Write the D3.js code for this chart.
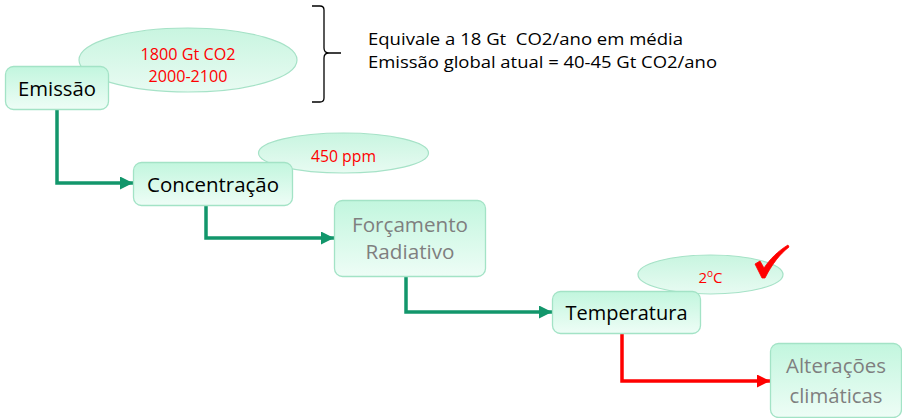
<!DOCTYPE html>
<html>
<head>
<meta charset="utf-8">
<script src="https://cdn.jsdelivr.net/npm/d3@7"></script>
<style>
html,body{margin:0;padding:0;background:#fff;}
svg{display:block;}
text{font-family:"Open Sans","Noto Sans",sans-serif;font-weight:400;}
</style>
</head>
<body>
<svg id="chart" width="902" height="418"></svg>
<script>
// ---- data ----
const stages = ["Emissão", "Concentração", "Forçamento Radiativo", "Temperatura", "Alterações climáticas"];
const stageLines = [["Emissão"], ["Concentração"], ["Forçamento", "Radiativo"], ["Temperatura"], ["Alterações", "climáticas"]];
const stageMuted = [false, false, true, false, true];
const notes = [["1800 Gt CO2", "2000-2100"], ["450 ppm"], [], ["2", "o", "C"], []];
const braceLines = ["Equivale a 18 Gt  CO2/ano em média", "Emissão global atual = 40-45 Gt CO2/ano"];

// ---- layout (positions / styles, separate from data) ----
const boxes = [
  {x:5,   y:66,  w:103, h:43},
  {x:133, y:162, w:159, h:43},
  {x:334, y:200, w:151, h:76},
  {x:552, y:291, w:148, h:42},
  {x:770, y:343, w:131, h:74}
];
const lineLayout = [
  [{b:96, w:78}],
  [{b:192, w:132}],
  [{b:232, w:116}, {b:259, w:89}],
  [{b:320, w:122}],
  [{b:373, w:100}, {b:403, w:93}]
];
const ellipses = [
  {cx:188, cy:60, rx:109, ry:32, lines:[{b:60, w:95}, {b:82, w:79}]},
  {cx:343.5, cy:153, rx:85, ry:20, lines:[{b:162, w:65}]},
  null,
  {cx:710.5, cy:274.5, rx:72.5, ry:19.5, lines:[{b:283}]},
  null
];
const connectors = [
  {sx:57,  ty:183, color:"#12966b"},
  {sx:206, ty:238, color:"#12966b"},
  {sx:406, ty:312, color:"#12966b"},
  {sx:622, ty:381, color:"#ff0000"}
];

const svg = d3.select("#chart");
const defs = svg.append("defs");

const gBox = defs.append("linearGradient").attr("id","gBox").attr("x1",0).attr("y1",0).attr("x2",0).attr("y2",1);
gBox.append("stop").attr("offset","0%").attr("stop-color","#c2f6de");
gBox.append("stop").attr("offset","100%").attr("stop-color","#eefdf6");
const gEl = defs.append("linearGradient").attr("id","gEl").attr("x1",0).attr("y1",0).attr("x2",0).attr("y2",1);
gEl.append("stop").attr("offset","0%").attr("stop-color","#c8f5e0");
gEl.append("stop").attr("offset","100%").attr("stop-color","#e8fbf2");

connectors.forEach((c,i)=>{
  defs.append("marker").attr("id","arr"+i)
    .attr("viewBox","0 0 10 10").attr("refX",10).attr("refY",5)
    .attr("markerUnits","userSpaceOnUse").attr("markerWidth",13).attr("markerHeight",13)
    .attr("orient","auto")
    .append("path").attr("d","M0,0 L10,5 L0,10 Z").attr("fill",c.color);
});

const lineGen = d3.line();
connectors.forEach((c,i)=>{
  const from = boxes[i], to = boxes[i+1];
  const pts = [[c.sx, from.y+from.h], [c.sx, c.ty], [to.x, c.ty]];
  svg.append("path").attr("d", lineGen(pts))
    .attr("fill","none").attr("stroke",c.color).attr("stroke-width",3.5)
    .attr("stroke-linejoin","miter")
    .attr("marker-end","url(#arr"+i+")");
});

ellipses.forEach((e,i)=>{
  if(!e) return;
  svg.append("ellipse").attr("cx",e.cx).attr("cy",e.cy).attr("rx",e.rx).attr("ry",e.ry)
    .attr("fill","url(#gEl)").attr("stroke","#a6e2c7").attr("stroke-width",1.2);
});

const boxSel = svg.selectAll("g.stage").data(stages).enter().append("g").attr("class","stage");
boxSel.append("rect")
  .attr("x",(d,i)=>boxes[i].x+0.5).attr("y",(d,i)=>boxes[i].y+0.5)
  .attr("width",(d,i)=>boxes[i].w).attr("height",(d,i)=>boxes[i].h)
  .attr("rx",8).attr("ry",8)
  .attr("fill","url(#gBox)").attr("stroke","#a3e3c6").attr("stroke-width",1.3);
boxSel.each(function(d,i){
  const b = boxes[i];
  stageLines[i].forEach((t,j)=>{
    const L = lineLayout[i][j];
    d3.select(this).append("text")
      .attr("x", b.x + b.w/2 + 0.5).attr("y", L.b)
      .attr("text-anchor","middle")
      .attr("font-size",19.5)
      .attr("fill", stageMuted[i] ? "#7f7f7f" : "#000")
      .attr("textLength", L.w).attr("lengthAdjust","spacingAndGlyphs")
      .text(t);
  });
});

ellipses.forEach((e,i)=>{
  if(!e) return;
  if(i===3){
    const t = svg.append("text").attr("x",e.cx).attr("y",e.lines[0].b)
      .attr("text-anchor","middle").attr("font-size",15).attr("fill","#ff0000");
    t.append("tspan").text(notes[i][0]);
    t.append("tspan").attr("font-size",10).attr("dy",-6).text(notes[i][1]);
    t.append("tspan").attr("dy",6).text(notes[i][2]);
    return;
  }
  notes[i].forEach((txt,j)=>{
    const L = e.lines[j];
    svg.append("text").attr("x",e.cx).attr("y",L.b)
      .attr("text-anchor","middle").attr("font-size",15.5).attr("fill","#ff0000")
      .attr("textLength",L.w).attr("lengthAdjust","spacingAndGlyphs")
      .text(txt);
  });
});

svg.append("path")
  .attr("d","M755,264 L760,261 L764,268 C770,259 778,251 788,245 L789,247 C780,254 772,264 765,278 L762,278 Z")
  .attr("fill","#ff0000").attr("stroke","#ff0000").attr("stroke-width",0.8).attr("stroke-linejoin","round");

svg.append("path")
  .attr("d","M312,6 L320,6 Q324,6 324,10 L324,48 Q324,53 329,53 L341,53 M329,53 Q324,53 324,58 L324,98 Q324,102 320,102 L312,102")
  .attr("fill","none").attr("stroke","#000").attr("stroke-width",1.3);

const braceW = [315, 349], braceB = [45, 68];
braceLines.forEach((t,i)=>{
  svg.append("text").attr("x",368).attr("y",braceB[i])
    .attr("font-size",16).attr("fill","#000")
    .attr("textLength",braceW[i]).attr("lengthAdjust","spacingAndGlyphs")
    .style("white-space","pre")
    .text(t);
});
</script>
</body>
</html>
